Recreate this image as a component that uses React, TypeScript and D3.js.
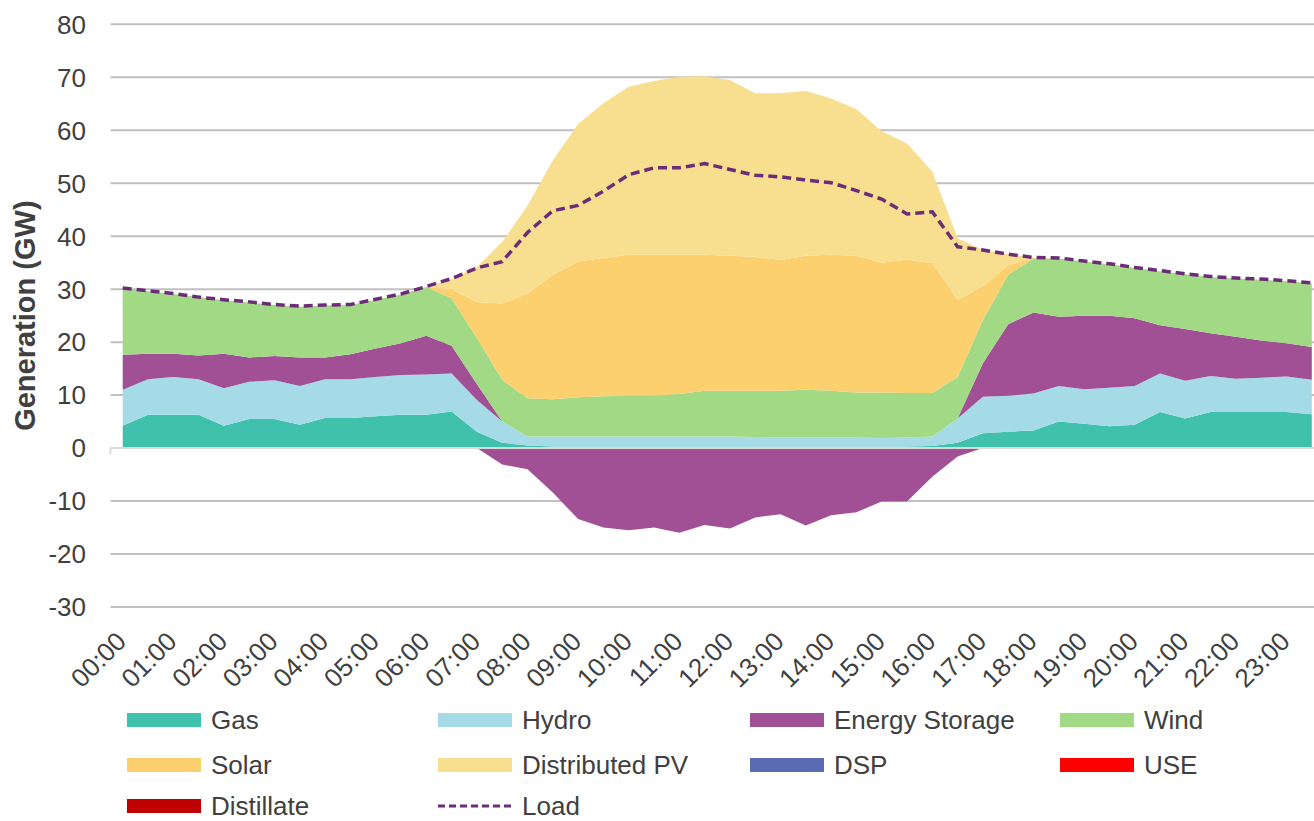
import React from "react";
import * as d3 from "d3";

const hours = [
  "00:00","01:00","02:00","03:00","04:00","05:00","06:00","07:00","08:00","09:00","10:00","11:00",
  "12:00","13:00","14:00","15:00","16:00","17:00","18:00","19:00","20:00","21:00","22:00","23:00",
];

const gas = [4.2,6.3,6.3,6.3,4.2,5.5,5.5,4.4,5.7,5.7,6.0,6.3,6.3,6.9,3.1,1.0,0.5,0.3,0.3,0.3,0.3,0.3,0.3,0.3,0.3,0.3,0.3,0.3,0.3,0.3,0.3,0.3,0.4,1.0,2.8,3.1,3.3,5.0,4.6,4.1,4.4,6.8,5.6,6.8,6.8,6.8,6.8,6.4];
const hydro = [6.8,6.7,7.1,6.7,7.1,7.0,7.3,7.3,7.3,7.3,7.4,7.5,7.6,7.2,6.0,4.0,1.7,1.9,1.9,1.9,1.9,1.9,1.9,1.9,1.9,1.8,1.7,1.7,1.7,1.7,1.6,1.7,1.8,4.6,6.9,6.8,7.0,6.7,6.5,7.3,7.3,7.3,7.1,6.8,6.3,6.5,6.7,6.5];
const storage = [6.6,4.8,4.4,4.5,6.5,4.6,4.6,5.4,4.1,4.7,5.4,6.0,7.3,5.2,3.0,0,0,0,0,0,0,0,0,0,0,0,0,0,0,0,0,0,0,0,6.3,13.5,15.3,13.1,13.9,13.6,12.8,9.1,9.8,8.1,7.9,7.0,6.3,6.2];
const wind = [12.5,11.8,11.3,11.0,10.1,10.4,9.6,9.6,9.8,9.3,9.2,9.2,9.2,9.0,8.7,7.9,7.2,7.0,7.4,7.6,7.7,7.7,8.0,8.6,8.6,8.7,8.8,9.0,8.8,8.5,8.6,8.4,8.2,7.8,8.2,9.3,10.2,11.0,10.2,9.7,9.5,10.2,10.3,10.6,11.0,11.5,11.7,12.0];
const solar = [0,0,0,0,0,0,0,0,0,0,0,0,0,1.7,6.8,14.4,19.8,23.5,25.6,26.1,26.6,26.6,26.3,25.7,25.5,25.3,24.7,25.3,25.7,25.8,24.5,25.2,24.5,14.6,6.3,1.8,0.1,0,0,0,0,0,0,0,0,0,0,0];
const distributedPV = [0,0,0,0,0,0,0,0,0,0,0,0,0,1.9,6.6,11.6,16.6,21.6,26.0,29.2,31.7,32.8,33.6,33.7,33.2,30.9,31.5,31.1,29.5,27.7,24.8,21.9,17.3,11.6,6.9,2.1,0.1,0,0,0,0,0,0,0,0,0,0,0];
const storageCharging = [0,0,0,0,0,0,0,0,0,0,0,0,0,0,0,-3.1,-4.0,-8.4,-13.4,-15.0,-15.5,-15.0,-16.0,-14.5,-15.2,-13.1,-12.5,-14.6,-12.7,-12.1,-10.1,-10.1,-5.4,-1.6,0,0,0,0,0,0,0,0,0,0,0,0,0,0];
const load = [30.2,29.7,29.2,28.5,28.0,27.6,27.1,26.8,27.0,27.1,28.1,29.1,30.5,32.0,34.0,35.2,40.7,44.8,45.8,48.5,51.6,52.9,52.9,53.7,52.6,51.5,51.2,50.6,50.1,48.6,47.0,44.2,44.6,38.0,37.4,36.6,36.0,35.9,35.3,34.8,34.1,33.5,32.9,32.4,32.1,31.9,31.6,31.2];
const yTicks = [-30,-20,-10,0,10,20,30,40,50,60,70,80];

const seriesKeys = ["Gas","Hydro","Energy Storage","Wind","Solar","Distributed PV"];
const seriesData = [gas, hydro, storage, wind, solar, distributedPV];
const colors: Record<string, string> = {
  Gas: "#40C1AB",
  Hydro: "#A4DBE7",
  "Energy Storage": "#A25096",
  Wind: "#A1D985",
  Solar: "#FCD06F",
  "Distributed PV": "#F8DF8F",
  DSP: "#5B6BB3",
  USE: "#FF0000",
  Distillate: "#C00000",
  Load: "#6C2C78",
};
const legendItems = [
  ["Gas","Hydro","Energy Storage","Wind"],
  ["Solar","Distributed PV","DSP","USE"],
  ["Distillate","Load"],
];

export default function App() {
  const W = 1314, H = 821;
  const n = load.length;
  const x = d3.scaleLinear().domain([0, n - 1]).range([122.7, 1311.8]);
  const y = d3.scaleLinear().domain([-30, 80]).range([607, 24.3]);
  const plotLeft = 110.5;

  const rows = d3.range(n).map((i) => {
    const r: Record<string, number> = {};
    seriesKeys.forEach((k, j) => (r[k] = seriesData[j][i]));
    return r;
  });
  const stacked = d3.stack<Record<string, number>>().keys(seriesKeys)(rows);
  const area = d3
    .area<d3.SeriesPoint<Record<string, number>>>()
    .x((_, i) => x(i))
    .y0((d) => y(d[0]))
    .y1((d) => y(d[1]));
  const chargeArea = d3
    .area<number>()
    .x((_, i) => x(i))
    .y0(() => y(0))
    .y1((d) => y(d));
  const loadLine = d3
    .line<number>()
    .x((_, i) => x(i))
    .y((d) => y(d));

  const font = "'Liberation Sans', Arial, sans-serif";
  const textColor = "#404040";
  const colX = [127, 438, 750, 1060];
  const rowY = [720, 765, 806];

  return (
    <svg
      width={W}
      height={H}
      style={{ position: "absolute", left: 0, top: 0, background: "#fff" }}
      fontFamily={font}
    >
      <rect x={0} y={0} width={W} height={H} fill="#fff" />
      {yTicks.filter((t) => t !== 0).map((t) => (
        <line key={t} x1={plotLeft} x2={W} y1={y(t)} y2={y(t)} stroke="#C0C0C0" strokeWidth={2} />
      ))}
      {stacked.map((s) => (
        <path key={s.key} d={area(s) || ""} fill={colors[s.key]} />
      ))}
      <path d={chargeArea(storageCharging) || ""} fill={colors["Energy Storage"]} />
      <line x1={plotLeft} x2={W} y1={y(0)} y2={y(0)} stroke="#D9D9D9" strokeWidth={2} />
      <line x1={plotLeft} x2={plotLeft} y1={y(0)} y2={y(0) + 6} stroke="#D9D9D9" strokeWidth={2} />
      <path
        d={loadLine(load) || ""}
        fill="none"
        stroke={colors.Load}
        strokeWidth={3.5}
        strokeDasharray="9 5"
      />
      {yTicks.map((t) => (
        <text key={t} x={86} y={y(t)} dy="0.36em" textAnchor="end" fontSize={26} fill={textColor}>
          {t}
        </text>
      ))}
      {hours.map((h, k) => (
        <text
          key={h}
          transform={`translate(${x(k * 2) + 5},${643}) rotate(-45)`}
          textAnchor="end"
          fontSize={26}
          fill={textColor}
        >
          {h}
        </text>
      ))}
      <text
        transform={`translate(35,${(y(80) + y(-30)) / 2}) rotate(-90)`}
        textAnchor="middle"
        fontSize={29}
        fontWeight="bold"
        fill={textColor}
      >
        Generation (GW)
      </text>
      {legendItems.map((row, r) =>
        row.map((name, c) => (
          <g key={name} transform={`translate(${colX[c]},${rowY[r]})`}>
            {name === "Load" ? (
              <line x1={0} x2={74} y1={0} y2={0} stroke={colors.Load} strokeWidth={3} strokeDasharray="7 4" />
            ) : (
              <rect x={0} y={-7} width={74} height={14} fill={colors[name]} />
            )}
            <text x={84} y={0} dy="0.36em" fontSize={26} fill={textColor}>
              {name}
            </text>
          </g>
        ))
      )}
    </svg>
  );
}
